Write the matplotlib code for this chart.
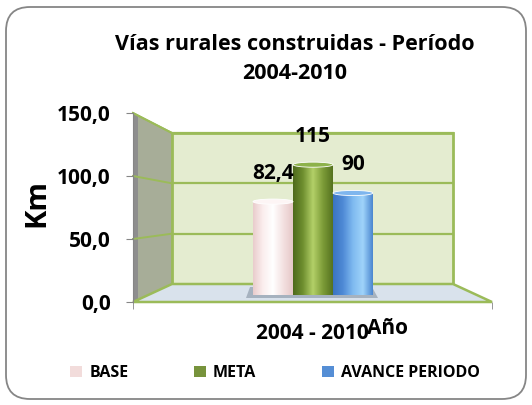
import numpy as np
import matplotlib
matplotlib.use('Agg')
import matplotlib.pyplot as plt
from matplotlib.patches import Polygon, Rectangle, FancyBboxPatch, Ellipse, Patch
from matplotlib.colors import LinearSegmentedColormap

plt.rcParams['font.family'] = ['Open Sans', 'DejaVu Sans']
plt.rcParams['font.weight'] = 'bold'

# ── datos ──────────────────────────────────────────────────────────────
series      = ['BASE', 'META', 'AVANCE PERIODO']
values      = [82.4, 115, 90]
category    = '2004 - 2010'
y_ticks     = [0, 50, 100, 150]
y_ticklabels = ['0,0', '50,0', '100,0', '150,0']
title       = 'Vías rurales construidas - Período\n2004-2010'

legend_colors = ['#f2dcdb', '#77933c', '#558ed5']
grad_colors = [
    ['#e9cccc', '#fbeeee', '#ffffff', '#f4e2e2', '#e6c8c8'],
    ['#4e6a1c', '#6f8f30', '#b3d068', '#7d9c38', '#55721f'],
    ['#3a74c2', '#4f8ad6', '#7fbaf0', '#9fd3fa', '#4a86d0'],
]
cap_colors = ['#fdf5f5', '#8db24a', '#7fb6ee']

W, H = 532, 405
fig = plt.figure(figsize=(W / 100, H / 100), dpi=100)


def ax_px(x0, y0, x1, y1):
    """Rectangulo en pixeles (origen arriba-izquierda) -> coords de figura."""
    return [x0 / W, 1 - y1 / H, (x1 - x0) / W, (y1 - y0) / H]


# ── fondo: marco y caja 3D ─────────────────────────────────────────────
bg = fig.add_axes([0, 0, 1, 1])
bg.set_xlim(0, W)
bg.set_ylim(H, 0)
bg.axis('off')

bg.add_patch(FancyBboxPatch((6, 7), 520, 392,
                            boxstyle='round,pad=0,rounding_size=24',
                            fc='white', ec='#868686', lw=1.3))

green = '#9bbb59'
front_l, front_r, front_top, front_bot = 133, 492, 113, 302
back_l, back_r, back_top, back_bot = 172, 453, 133, 284


def back_y(v):
    return back_bot - v * (back_bot - back_top) / 150


def front_y(v):
    return front_bot - v * (front_bot - front_top) / 150


# pared lateral
bg.add_patch(Polygon([(front_l, front_top), (back_l, back_top),
                      (back_l, back_bot), (front_l, front_bot)],
                     closed=True, fc='#a7ad98', ec='none'))
bg.add_patch(Polygon([(front_l, front_top), (front_l + 5, front_top + 3),
                      (front_l + 5, front_bot - 1), (front_l, front_bot)],
                     closed=True, fc='#8e8e8e', ec='none'))
# pared de fondo
bg.add_patch(Rectangle((back_l, back_top), back_r - back_l, back_bot - back_top,
                       fc='#e4ecd0', ec=green, lw=2))
# piso
bg.add_patch(Polygon([(front_l, front_bot), (back_l, back_bot),
                      (back_r, back_bot), (front_r, front_bot)],
                     closed=True, fc='#d9e2ec', ec=green, lw=1.8))
# lineas de cuadricula
for v in y_ticks[1:]:
    bg.plot([back_l, back_r], [back_y(v), back_y(v)], color=green, lw=1.6)
    bg.plot([front_l, back_l], [front_y(v), back_y(v)], color=green, lw=1.4)
bg.plot([front_l, back_l], [front_top, back_top], color=green, lw=1.4)
# sombra de las barras
bg.add_patch(Polygon([(250, 287), (372, 287), (378, 298), (246, 298)],
                     closed=True, fc='#9aa6b4', ec='none', alpha=0.8))

# ── barras cilindricas ─────────────────────────────────────────────────
ax = fig.add_axes(ax_px(213, 125, 373, 295))
ax.set_xlim(-1.5, 2.5)
ax.set_ylim(0, 150)
ax.axis('off')
ax.patch.set_alpha(0)

x = np.arange(len(values))
bars = ax.bar(x, values, width=1.0, color=legend_colors, lw=0, zorder=2)
grad = np.linspace(0, 1, 256).reshape(1, -1)
for i, (b, v) in enumerate(zip(bars, values)):
    cmap = LinearSegmentedColormap.from_list(f'g{i}', grad_colors[i])
    im = ax.imshow(grad, cmap=cmap, aspect='auto', zorder=3,
                   extent=(x[i] - 0.5, x[i] + 0.5, 0, v))
    im.set_clip_path(b)
    ax.add_patch(Ellipse((x[i], 0), 1.0, 4.5, fc=grad_colors[i][2],
                         ec='none', zorder=2.5))
    ax.add_patch(Ellipse((x[i], v), 1.0, 4.5, fc=cap_colors[i],
                         ec='white', lw=0.6, zorder=4))
    ax.annotate(f'{v:g}'.replace('.', ','), xy=(x[i], v), xytext=(0, 13),
                textcoords='offset points', ha='center', va='bottom',
                fontsize=15, fontweight='bold', zorder=5)

ax.set_xlim(-1.5, 2.5)
ax.set_ylim(0, 150)

# ── ejes frontales ─────────────────────────────────────────────────────
fa = fig.add_axes(ax_px(front_l, front_top, front_r, front_bot))
fa.patch.set_alpha(0)
fa.set_ylim(0, 150)
fa.set_xlim(0, 1)
for s in ['top', 'right', 'bottom']:
    fa.spines[s].set_visible(False)
fa.spines['left'].set_color('#868686')
fa.set_yticks(y_ticks)
fa.set_yticklabels(y_ticklabels, fontsize=15, fontweight='bold')
fa.tick_params(axis='y', length=5, color='#868686', pad=11)
fa.set_xticks([0.5])
fa.set_xticklabels([category], fontsize=15, fontweight='bold')
fa.set_xticks([0, 1], minor=True)
fa.tick_params(axis='x', which='major', length=0, pad=15)
fa.tick_params(axis='x', which='minor', length=5, color='#868686')
fa.set_ylabel('Km', fontsize=21, fontweight='bold')
fa.yaxis.set_label_coords(-0.267, 0.524)
fa.yaxis.label.set_va('center')
fa.set_xlabel('Año', fontsize=15, fontweight='bold')
fa.xaxis.set_label_coords(0.71, -0.085)
fa.xaxis.label.set_va('top')

fig.text(295 / W, 1 - 59 / H, title, ha='center', va='center',
         fontsize=15.5, fontweight='bold', linespacing=1.45)

handles = [Patch(fc=c, ec='none') for c in legend_colors]
fig.legend(handles, series, loc='center left', bbox_to_anchor=(70 / W, 1 - 373 / H),
           ncol=3, frameon=False, handlelength=0.75, handleheight=0.75,
           handletextpad=0.45, columnspacing=4.1, borderpad=0, borderaxespad=0,
           prop={'weight': 'bold', 'size': 11.5})

fig.savefig('out.png', dpi=100)
